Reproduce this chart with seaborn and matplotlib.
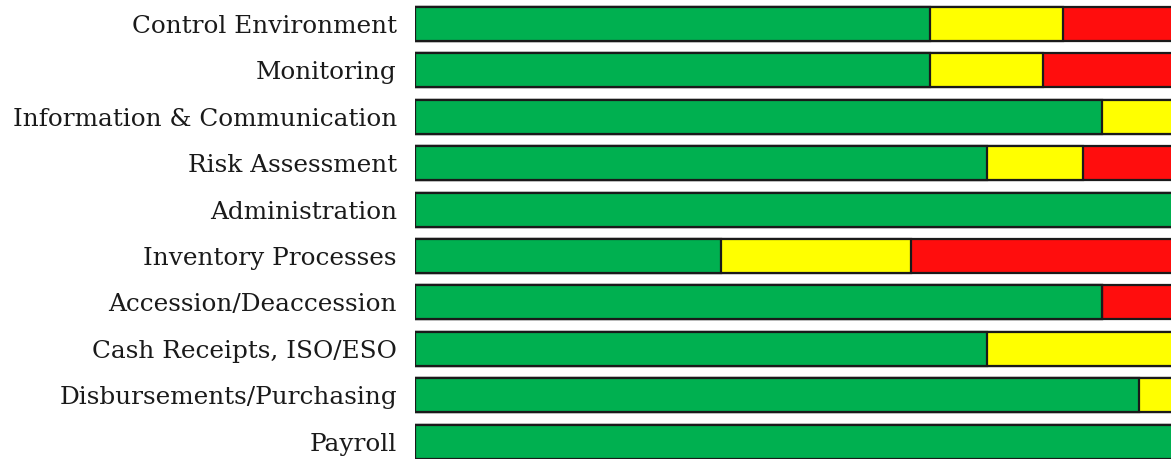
import pandas as pd
import matplotlib.pyplot as plt
import seaborn as sns

# ------------------ Data (share of findings per area, %) ------------------
areas = ['Control Environment', 'Monitoring', 'Information & Communication',
         'Risk Assessment', 'Administration', 'Inventory Processes',
         'Accession/Deaccession', 'Cash Receipts, ISO/ESO',
         'Disbursements/Purchasing', 'Payroll']
green = [65.6, 65.6, 87.5, 72.9, 100.0, 39.0, 87.5, 72.9, 92.2, 100.0]
yellow = [16.9, 14.4, 12.5, 12.2, 0.0, 24.2, 0.0, 27.1, 7.8, 0.0]
red = [17.5, 20.0, 0.0, 14.9, 0.0, 36.8, 12.5, 0.0, 0.0, 0.0]

df = pd.DataFrame({'area': areas, 'green': green, 'yellow': yellow, 'red': red})
df['gy'] = df['green'] + df['yellow']
df['total'] = df['gy'] + df['red']

# ------------------ Plot ------------------
sns.set_style('white')
plt.rcParams['font.family'] = ['DejaVu Serif']

fig = plt.figure(figsize=(11.71, 4.59), dpi=100)
# axes runs past the right/bottom edges, the original is a cropped screenshot
ax = fig.add_axes([415 / 1171, -0.0126, 785 / 1171, 1.0109])

edge = dict(edgecolor='#1a1a1a', linewidth=1.6, width=0.73, orient='h')
# draw cumulative totals back to front so the segments stack
sns.barplot(data=df, x='total', y='area', color='#FF0D0D', ax=ax, **edge)
sns.barplot(data=df, x='gy', y='area', color='#FFFF00', ax=ax, **edge)
sns.barplot(data=df, x='green', y='area', color='#00B050', ax=ax, **edge)

# seaborn desaturates colors by default, reset fills to pure colors
for patch, col in zip(ax.patches, ['#FF0D0D'] * 10 + ['#FFFF00'] * 10 + ['#00B050'] * 10):
    patch.set_facecolor(col)

ax.set_xlim(0, 100)
ax.set_ylim(9.5, -0.5)
ax.set_xlabel('')
ax.set_ylabel('')
ax.set_xticks([])
ax.tick_params(axis='y', length=0, pad=13, labelsize=17.8, labelcolor='#1a1a1a')
sns.despine(ax=ax, left=True, bottom=True, right=True, top=True)

fig.savefig('out.png', dpi=100)
